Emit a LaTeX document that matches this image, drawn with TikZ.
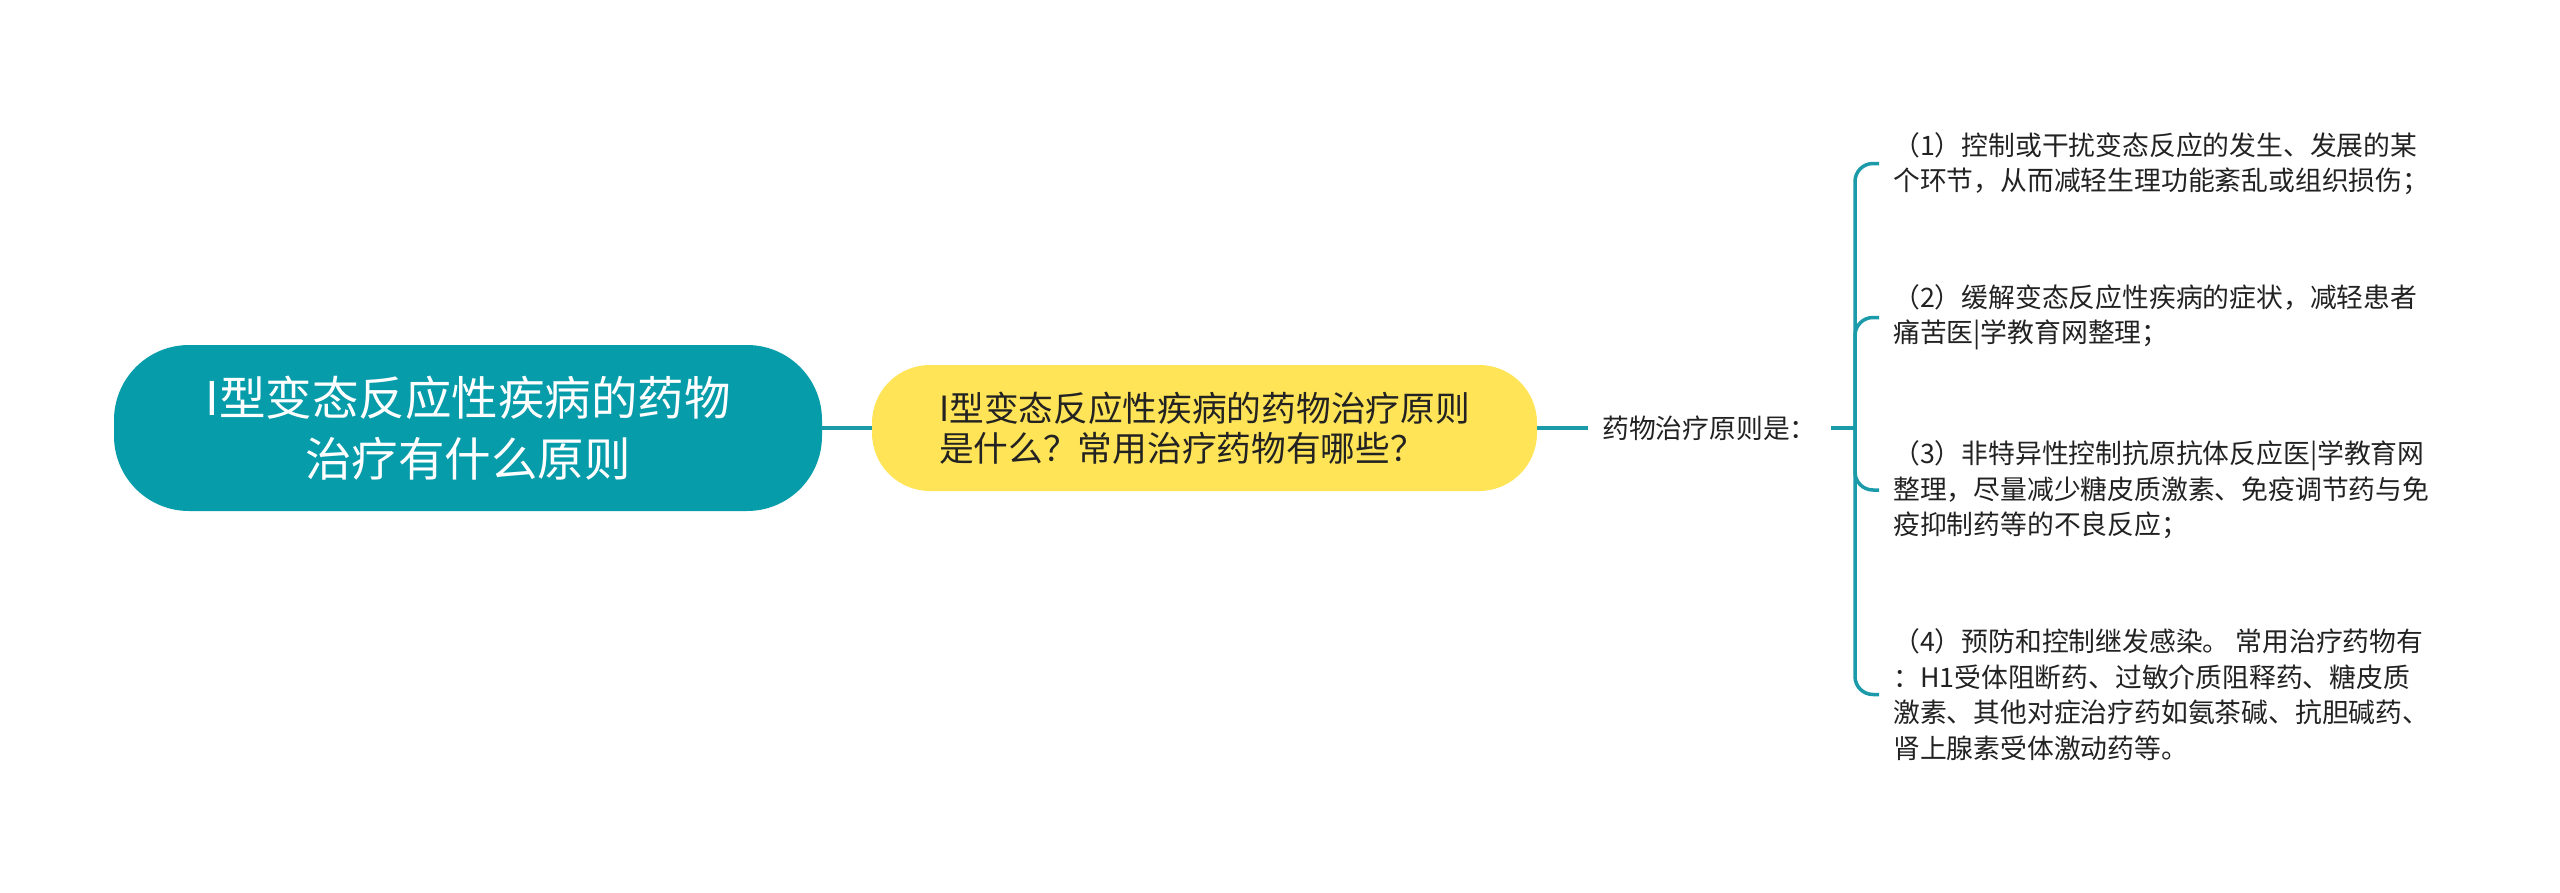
\documentclass[tikz,border=0pt]{standalone}
\usepackage{fontspec}
\setmainfont{Noto Sans CJK SC}
\definecolor{teal1}{HTML}{079CAA}
\definecolor{line1}{HTML}{1B9AAA}
\definecolor{yel1}{HTML}{FFE458}
\definecolor{txt1}{HTML}{222222}
\tikzset{
  conn/.style={draw=line1, line width=3.5pt},
  rootbox/.style={fill=teal1, rounded corners=75pt, minimum width=708pt, minimum height=166pt, align=center, text=white, inner sep=0pt, font=\fontsize{46.5}{61}\selectfont},
  subbox/.style={fill=yel1, rounded corners=58pt, minimum width=665pt, minimum height=126pt, align=left, text=txt1, inner sep=0pt, font=\fontsize{34.7}{40}\selectfont},
  midtext/.style={text=txt1, inner xsep=14pt, inner ysep=0pt, anchor=west, font=\fontsize{26.8}{35}\selectfont},
  leaftext/.style={text=txt1, inner xsep=14pt, inner ysep=0pt, anchor=west, align=left, font=\fontsize{26.8}{35.5}\selectfont},
}
\begin{document}
\begin{tikzpicture}[x=1pt,y=-1pt]
\useasboundingbox (0,0) rectangle (2560,892);
\node[rootbox] (root) at (468,428) {I型变态反应性疾病的药物\\治疗有什么原则};
\node[subbox] (sub) at (1204.5,428) {I型变态反应性疾病的药物治疗原则\\是什么？常用治疗药物有哪些？};
\node[midtext] (mid) at (1588,428) {药物治疗原则是：};
\coordinate (stem) at (1855,428);
\node[leaftext] (l1) at (1879,163.5) {（1）控制或干扰变态反应的发生、发展的某\\个环节，从而减轻生理功能紊乱或组织损伤；};
\node[leaftext] (l2) at (1879,317.5) {（2）缓解变态反应性疾病的症状，减轻患者\\痛苦医|学教育网整理；};
\node[leaftext] (l3) at (1879,490) {（3）非特异性控制抗原抗体反应医|学教育网\\整理，尽量减少糖皮质激素、免疫调节药与免\\疫抑制药等的不良反应；};
\node[leaftext] (l4) at (1879,694.5) {（4）预防和控制继发感染。 常用治疗药物有\\：H1受体阻断药、过敏介质阻释药、糖皮质\\激素、其他对症治疗药如氨茶碱、抗胆碱药、\\肾上腺素受体激动药等。};
\draw[conn] (root.east) -- (sub.west);
\draw[conn] (sub.east) -- (mid.west);
\draw[conn] (mid.east) -- (stem);
\foreach \n in {l1,l2,l3,l4} {
  \draw[conn, rounded corners=18pt] (stem) |- (\n.west);
}
\end{tikzpicture}
\end{document}
